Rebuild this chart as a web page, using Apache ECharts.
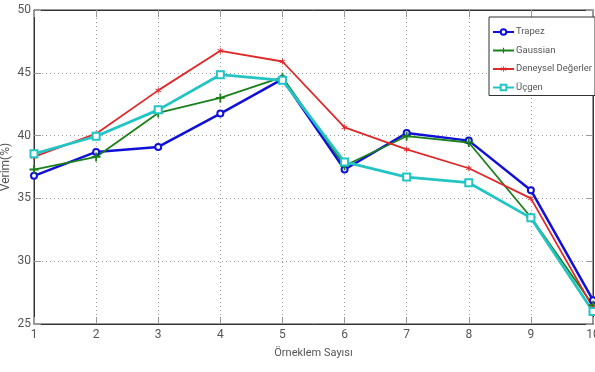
<!DOCTYPE html>
<html>
<head>
<meta charset="utf-8">
<script src="https://cdn.jsdelivr.net/npm/echarts@6/dist/echarts.min.js"></script>
<style>
  html, body { margin: 0; padding: 0; background: #fff; }
  #chart { width: 595px; height: 372px; }
</style>
</head>
<body>
<div id="chart"></div>
<script>
// sample numbers 1..10
const samples = [1, 2, 3, 4, 5, 6, 7, 8, 9, 10];

// efficiency values
const trapez   = [36.8, 38.7, 39.1, 41.75, 44.5, 37.3, 40.2, 39.6, 35.65, 26.9];
const gaussian = [37.3, 38.3, 41.8, 43.0, 44.65, 37.6, 39.95, 39.45, 33.5, 26.5];
const deneysel = [38.3, 40.15, 43.6, 46.75, 45.9, 40.65, 38.9, 37.4, 35.0, 26.3];
const ucgen    = [38.55, 39.95, 42.05, 44.85, 44.4, 37.9, 36.7, 36.25, 33.45, 26.0];

const font = 'Roboto, sans-serif';
const textColor = '#555';

const pair = vals => vals.map((v, i) => [samples[i], v]);

const plusSymbol = 'path://M4,0H6V4H10V6H6V10H4V6H0V4H4Z';
const starSymbol = 'path://M4.3,0H5.7V3.8L9.1,1.9L9.8,3.1L6.4,5L9.8,6.9L9.1,8.1L5.7,6.2V10H4.3V6.2L0.9,8.1L0.2,6.9L3.6,5L0.2,3.1L0.9,1.9L4.3,3.8Z';

const chartDom = document.getElementById('chart');
const myChart = echarts.init(chartDom);

const tickStyle = { show: true, inside: true, length: 7, lineStyle: { color: '#999' } };

const option = {
    animation: false,
    textStyle: { fontFamily: font },
    grid: {
        left: 34, right: 2, top: 10, bottom: 48,
        outerBoundsMode: 'none',
        containLabel: false,
        show: true, borderColor: '#333', borderWidth: 1
    },
    legend: {
        orient: 'vertical',
        left: 489, top: 17,
        padding: [10, 3, 3, 3],
        itemWidth: 21, itemHeight: 7, itemGap: 8.5,
        backgroundColor: '#fff',
        borderColor: '#333', borderWidth: 1, borderRadius: 0,
        textStyle: { fontFamily: font, fontSize: 9.5, color: textColor, padding: [0, 0, 0, -3] },
        data: ['Trapez', 'Gaussian', 'Deneysel Değerler', 'Üçgen']
    },
    xAxis: [{
        type: 'value',
        min: 1, max: 10, interval: 1,
        name: 'Örneklem Sayısı',
        nameLocation: 'middle', nameGap: 24, nameMoveOverlap: false,
        nameTextStyle: { fontFamily: font, fontSize: 11, color: textColor },
        axisLine: { lineStyle: { color: '#333' } },
        axisTick: tickStyle,
        axisLabel: { fontFamily: font, fontSize: 12, color: textColor, margin: 5 },
        splitLine: { show: true, lineStyle: { color: '#999', type: [1, 3] } }
    }, {
        type: 'value', position: 'top',
        min: 1, max: 10, interval: 1,
        axisLine: { lineStyle: { color: '#333' } },
        axisTick: tickStyle,
        axisLabel: { show: false },
        splitLine: { show: false }
    }],
    yAxis: [{
        type: 'value',
        min: 25, max: 50, interval: 5,
        name: 'Verim(%)',
        nameLocation: 'middle', nameGap: 22, nameMoveOverlap: false,
        nameTextStyle: { fontFamily: font, fontSize: 12, color: textColor },
        axisLine: { show: true, lineStyle: { color: '#333' } },
        axisTick: tickStyle,
        axisLabel: { fontFamily: font, fontSize: 12, color: textColor, margin: 3 },
        splitLine: { show: true, lineStyle: { color: '#999', type: [1, 3] } }
    }, {
        type: 'value', position: 'right',
        min: 25, max: 50, interval: 5,
        axisLine: { show: true, lineStyle: { color: '#333' } },
        axisTick: tickStyle,
        axisLabel: { show: false },
        splitLine: { show: false }
    }],
    series: [
        {
            name: 'Trapez', type: 'line', data: pair(trapez),
            symbol: 'emptyCircle', symbolSize: 6,
            lineStyle: { color: '#1010d8', width: 2.5 },
            itemStyle: { color: '#1010d8', borderWidth: 1.5 }
        },
        {
            name: 'Gaussian', type: 'line', data: pair(gaussian),
            symbol: plusSymbol, symbolSize: 9,
            lineStyle: { color: '#1a801a', width: 1.8 },
            itemStyle: { color: '#1a801a' }
        },
        {
            name: 'Deneysel Değerler', type: 'line', data: pair(deneysel),
            symbol: starSymbol, symbolSize: 6,
            lineStyle: { color: '#e02828', width: 1.8 },
            itemStyle: { color: '#e02828' }
        },
        {
            name: 'Üçgen', type: 'line', data: pair(ucgen),
            symbol: 'emptyRect', symbolSize: 7,
            lineStyle: { color: '#22c4c4', width: 2.8 },
            itemStyle: { color: '#22c4c4', borderWidth: 1.5 }
        }
    ]
};

myChart.setOption(option);
</script>
</body>
</html>
